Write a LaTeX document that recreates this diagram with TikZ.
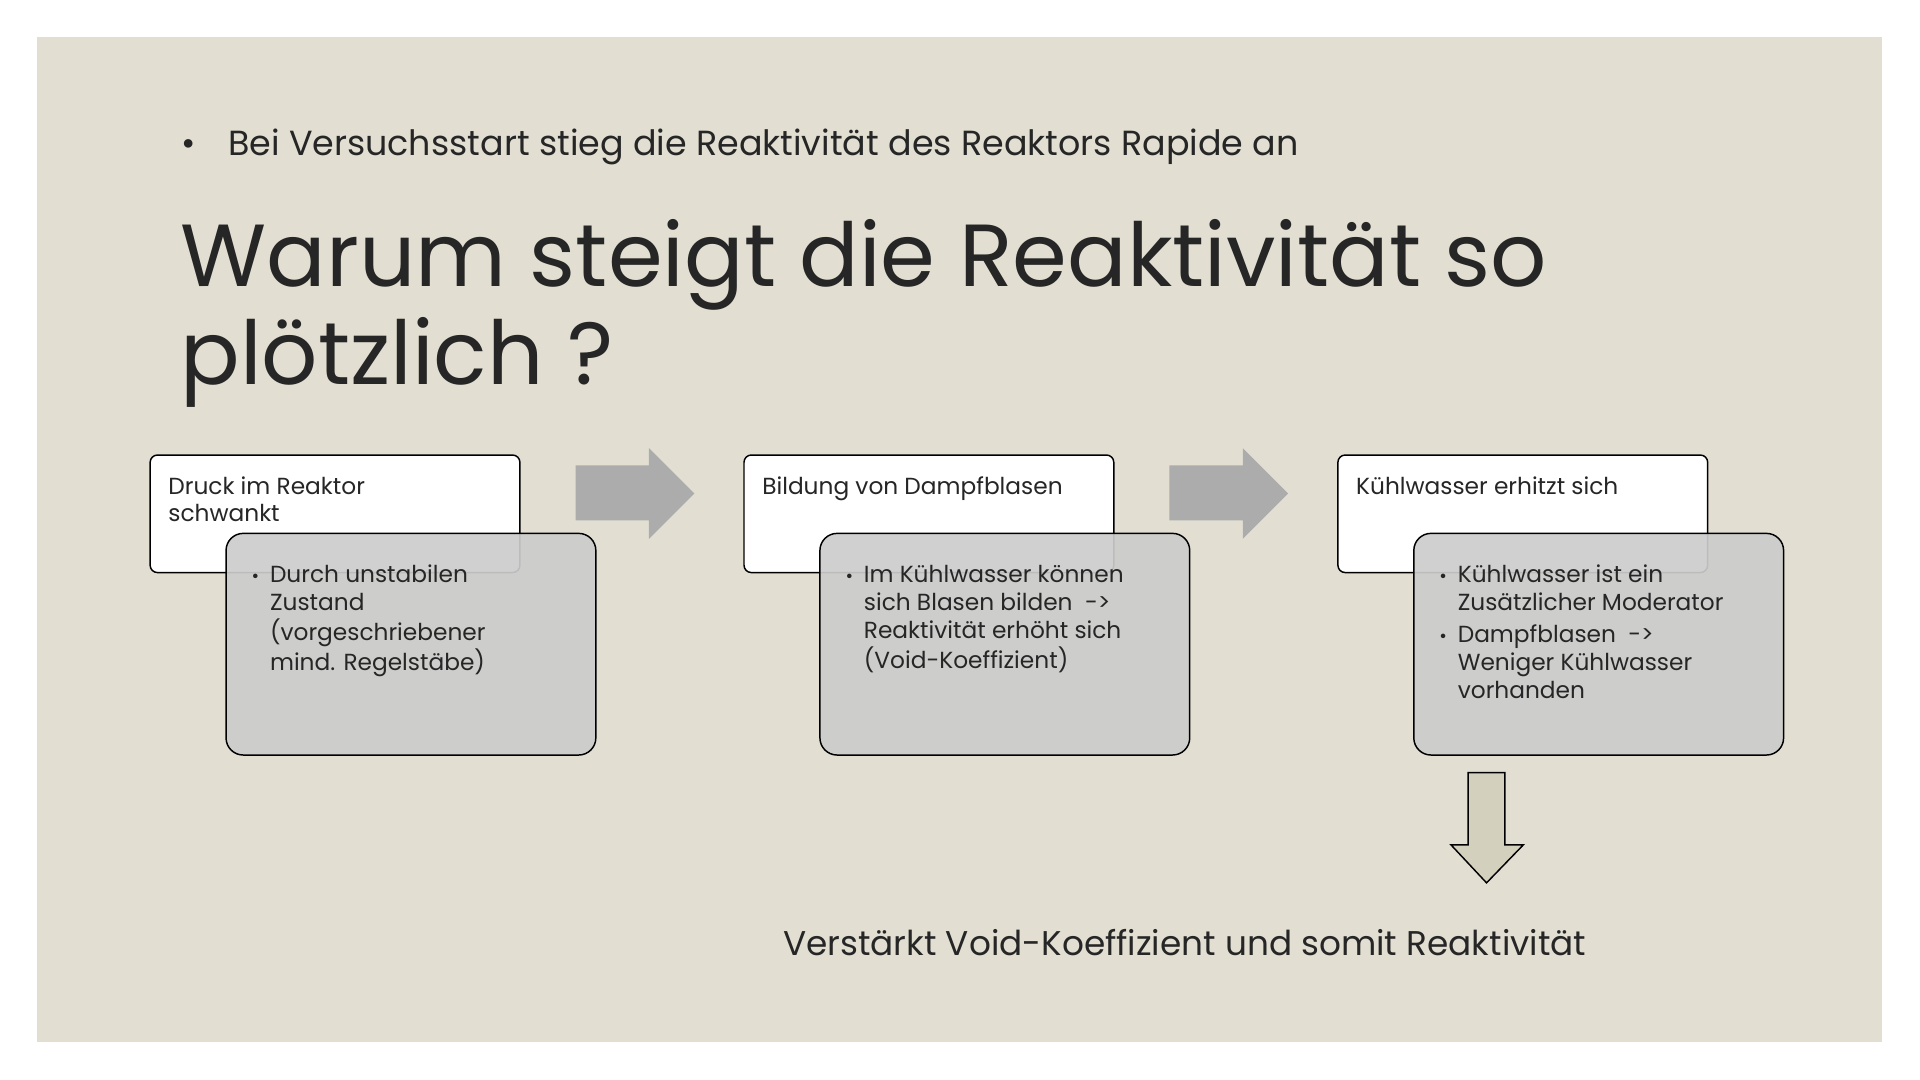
\documentclass[tikz,border=0pt]{standalone}
\usepackage{fontspec}
\setmainfont{Poppins}
\newcommand{\mybul}{\makebox[15pt][l]{\fontsize{15}{15}\selectfont •}}
\begin{document}
\begin{tikzpicture}[x=1pt,y=-1pt,
  topbox/.style={draw=black,line width=1.2pt,fill=white,rounded corners=6pt,minimum width=302pt,minimum height=96pt,anchor=north west},
  subbox/.style={draw=black,line width=1.2pt,fill=gray!40,fill opacity=0.92,text opacity=1,rounded corners=14pt,minimum width=302pt,minimum height=181pt,anchor=north west},
  toptext/.style={anchor=north west,font=\fontsize{19}{22}\selectfont,align=left,text=black!85},
  subtext/.style={anchor=north west,font=\fontsize{19}{23}\selectfont,align=left,text=black!85},
  rarrow/.style={fill=gray!65,draw=none},
  txt/.style={text=black!85}]
\useasboundingbox (0,0) rectangle (1568,882);
\fill[white] (0,0) rectangle (1568,882);
\fill[fill={rgb,255:red,226;green,223;blue,210}] (30,30) rectangle (1537,851);
\node[txt,anchor=west,font=\fontsize{28.5}{32}\selectfont] (b) at (145,120) {•\hspace{26pt}Bei Versuchsstart stieg die Reaktivität des Reaktors Rapide an};
\node[txt,anchor=north west,align=left,font=\fontsize{72}{80}\selectfont] (t) at (144,176) {Warum steigt die Reaktivität so\\plötzlich ?};
\foreach \i/\dx/\top/\sub in {1/0/{Druck im Reaktor\\schwankt}/{Durch unstabilen\\Zustand\\(vorgeschriebener\\mind. Regelstäbe)},
  2/485/{Bildung von Dampfblasen}/{Im Kühlwasser können\\sich Blasen bilden\ \ ->\\Reaktivität erhöht sich\\(Void-Koeffizient)}}{
  \node[topbox] (w\i) at (122+\dx,371) {};
  \node[toptext] (wt\i) at (134+\dx,386) {\top};
  \node[subbox] (g\i) at (184+\dx,435) {};
  \node[subtext] (gt\i) at (202+\dx,456) {\mybul\begin{tabular}[t]{@{}l@{}}\sub\end{tabular}};
}
\node[topbox] (w3) at (1092,371) {};
\node[toptext] (wt3) at (1104,386) {Kühlwasser erhitzt sich};
\node[subbox] (g3) at (1154,435) {};
\node[subtext] (gt3) at (1172,456) {\mybul\begin{tabular}[t]{@{}l@{}}Kühlwasser ist ein\\Zusätzlicher Moderator\end{tabular}\\[2pt]
\mybul\begin{tabular}[t]{@{}l@{}}Dampfblasen\ \ ->\\Weniger Kühlwasser\\vorhanden\end{tabular}};
\foreach \dx in {0,485}{
  \fill[rarrow] (470+\dx,380) -- (530+\dx,380) -- (530+\dx,366) -- (567+\dx,403) -- (530+\dx,440) -- (530+\dx,425) -- (470+\dx,425) -- cycle;
}
\draw[fill={rgb,255:red,212;green,208;blue,190},line width=1.2pt] (1199,631) -- (1229,631) -- (1229,690) -- (1244,690) -- (1214,721) -- (1185,690) -- (1199,690) -- cycle;
\node[txt,anchor=west,font=\fontsize{28}{32}\selectfont] (f) at (636,770) {Verstärkt Void-Koeffizient und somit Reaktivität};
\end{tikzpicture}
\end{document}
